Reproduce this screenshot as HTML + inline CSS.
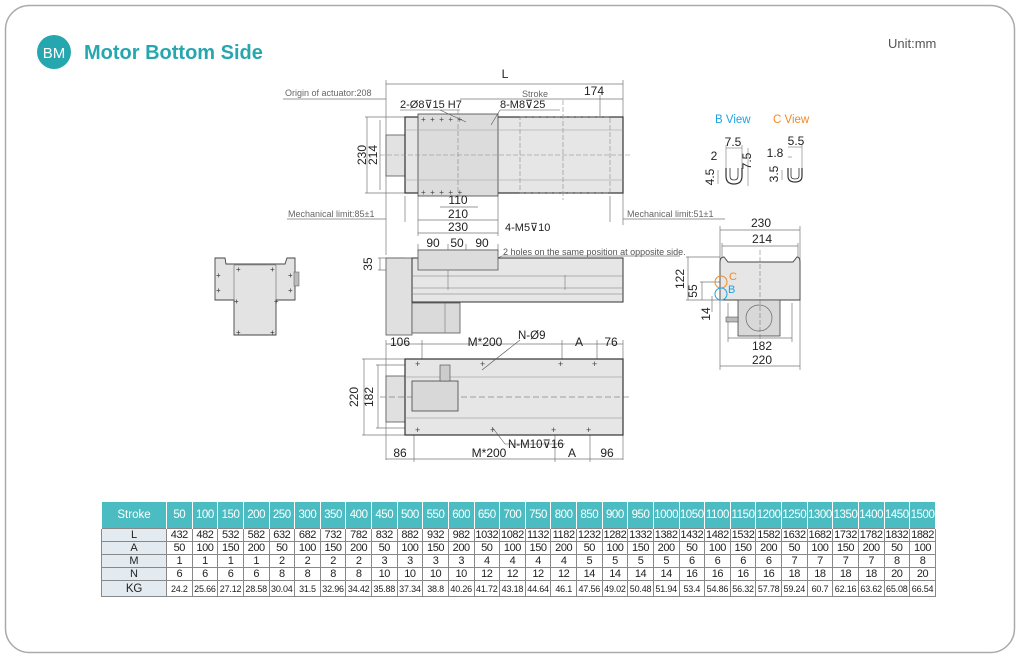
<!DOCTYPE html>
<html><head><meta charset="utf-8"><style>
body{margin:0;width:1020px;height:659px;background:#fff;position:relative;overflow:hidden;font-family:"Liberation Sans",sans-serif}
svg{position:absolute;left:0;top:0}
table{position:absolute;left:101px;top:502px;border-collapse:collapse;table-layout:fixed;width:835px;font-size:11px;letter-spacing:-0.4px;color:#222}
td{border:1px solid #888;text-align:center;padding:0;height:12px;line-height:12px;overflow:hidden;white-space:nowrap}
tr.h td{background:#4bbdc2;color:#fff;height:26px;border-color:#fff;border-width:0 1px;font-size:11.5px}
td.l{background:#e4ebf0;width:64px;letter-spacing:0}
tr.kg td{font-size:9px;height:15px;letter-spacing:-0.2px}
</style></head><body>
<svg width="1020" height="659" font-family="Liberation Sans, sans-serif">
<rect x="5.5" y="5.5" width="1009" height="647" rx="24" fill="none" stroke="#aaa" stroke-width="1.5"/>
<circle cx="54" cy="52" r="17" fill="#26a7b0"/>
<text x="54" y="58" fill="#fff" font-size="15" text-anchor="middle">BM</text>
<text x="84" y="59" fill="#26a7b0" font-size="20" font-weight="bold">Motor Bottom Side</text>
<text x="888" y="48" fill="#555" font-size="13">Unit:mm</text>

<g stroke="#777" stroke-width="0.7" fill="none">
<line x1="386" y1="84" x2="623" y2="84"/><line x1="386" y1="80" x2="386" y2="255"/><line x1="623" y1="80" x2="623" y2="225"/>
<line x1="460" y1="99" x2="623" y2="99"/><line x1="600" y1="95" x2="600" y2="117"/>
<line x1="283" y1="99" x2="386" y2="99"/>
<line x1="365" y1="117" x2="405" y2="117"/><line x1="365" y1="193" x2="405" y2="193"/><line x1="367" y1="117" x2="367" y2="193"/>
<line x1="380" y1="120" x2="380" y2="190"/>
<line x1="440" y1="207" x2="478" y2="207"/><line x1="418" y1="220" x2="498" y2="220"/><line x1="418" y1="233" x2="498" y2="233"/>
<line x1="418" y1="196" x2="418" y2="236"/><line x1="498" y1="196" x2="498" y2="236"/>
<line x1="287" y1="219" x2="386" y2="219"/><line x1="623" y1="219" x2="725" y2="219"/>
<line x1="405" y1="196" x2="405" y2="222"/><line x1="610" y1="196" x2="610" y2="222"/>
</g>
<rect x="386" y="135" width="19" height="41" fill="#e2e2e2" stroke="#555" stroke-width="0.8"/>
<rect x="405" y="117" width="218" height="76" fill="#e6e6e6" stroke="#333" stroke-width="1.2"/>
<rect x="418" y="114" width="80" height="82" fill="#dcdcdc" stroke="#444" stroke-width="0.8"/>
<g stroke="#888" stroke-width="0.6" fill="none" stroke-dasharray="5,2">
<rect x="520" y="117" width="90" height="76"/>
<line x1="380" y1="155" x2="630" y2="155"/><line x1="458" y1="110" x2="458" y2="200"/><line x1="563" y1="100" x2="563" y2="200"/>
</g>
<g stroke="#999" stroke-width="0.6"><line x1="405" y1="130" x2="623" y2="130"/><line x1="405" y1="180" x2="623" y2="180"/></g>
<g fill="#444" font-size="8"><text x="421" y="122">+ &#160;+ &#160;+ &#160;+ &#160;+</text><text x="421" y="195">+ &#160;+ &#160;+ &#160;+ &#160;+</text></g>
<g font-size="12" fill="#222" text-anchor="middle">
<text x="505" y="78">L</text><text x="594" y="95">174</text>
<text x="458" y="204">110</text><text x="458" y="218">210</text><text x="458" y="231">230</text>
<text x="366" y="155" transform="rotate(-90 366 155)">230</text><text x="377" y="155" transform="rotate(-90 377 155)">214</text>
</g>
<g font-size="9" fill="#666"><text x="285" y="96">Origin of actuator:208</text><text x="522" y="97">Stroke</text>
<text x="288" y="217">Mechanical limit:85±1</text><text x="627" y="217">Mechanical limit:51±1</text></g>
<g font-size="11" fill="#222"><text x="400" y="108">2-Ø8⊽15 H7</text><text x="500" y="108">8-M8⊽25</text><text x="505" y="231">4-M5⊽10</text></g>
<g stroke="#555" stroke-width="0.6"><line x1="400" y1="110" x2="460" y2="110"/><line x1="440" y1="110" x2="466" y2="122"/><line x1="500" y1="110" x2="560" y2="110"/><line x1="500" y1="110" x2="491" y2="125"/></g>

<g stroke="#777" stroke-width="0.7" fill="none">
<line x1="418" y1="250" x2="498" y2="250"/><line x1="418" y1="244" x2="418" y2="252"/><line x1="448" y1="244" x2="448" y2="270"/><line x1="466" y1="244" x2="466" y2="270"/><line x1="498" y1="244" x2="498" y2="252"/>
<line x1="378" y1="258" x2="405" y2="258"/><line x1="378" y1="270" x2="418" y2="270"/><line x1="380" y1="258" x2="380" y2="270"/>
<line x1="470" y1="271" x2="502" y2="256"/><line x1="502" y1="256" x2="680" y2="256"/>
</g>
<rect x="386" y="258" width="26" height="77" fill="#e0e0e0" stroke="#555" stroke-width="0.8"/>
<rect x="412" y="258" width="211" height="44" fill="#e6e6e6" stroke="#333" stroke-width="1"/>
<rect x="418" y="250" width="80" height="20" fill="#dcdcdc" stroke="#555" stroke-width="0.8"/>
<rect x="412" y="303" width="48" height="30" fill="#dadada" stroke="#555" stroke-width="0.8"/>
<g stroke="#777" stroke-width="0.6"><line x1="412" y1="276" x2="623" y2="276"/><line x1="412" y1="288" x2="623" y2="288"/><line x1="412" y1="294" x2="623" y2="294"/><line x1="445" y1="303" x2="445" y2="333"/><line x1="448" y1="270" x2="448" y2="290"/><line x1="565" y1="275" x2="565" y2="290"/></g>
<g font-size="12" fill="#222" text-anchor="middle"><text x="433" y="247">90</text><text x="457" y="247">50</text><text x="482" y="247">90</text>
<text x="372" y="264" transform="rotate(-90 372 264)">35</text></g>
<text x="503" y="255" font-size="9" fill="#555">2 holes on the same position at opposite side.</text>

<g stroke="#777" stroke-width="0.7" fill="none">
<line x1="386" y1="344" x2="623" y2="344"/><line x1="386" y1="340" x2="386" y2="460"/><line x1="623" y1="340" x2="623" y2="460"/>
<line x1="422" y1="340" x2="422" y2="360"/><line x1="562" y1="340" x2="562" y2="360"/><line x1="597" y1="340" x2="597" y2="360"/>
<line x1="386" y1="459" x2="623" y2="459"/><line x1="414" y1="435" x2="414" y2="462"/><line x1="555" y1="435" x2="555" y2="462"/><line x1="590" y1="435" x2="590" y2="462"/>
<line x1="362" y1="359" x2="405" y2="359"/><line x1="362" y1="435" x2="405" y2="435"/><line x1="364" y1="359" x2="364" y2="435"/>
<line x1="376" y1="365" x2="405" y2="365"/><line x1="376" y1="428" x2="405" y2="428"/><line x1="378" y1="365" x2="378" y2="428"/>
</g>
<rect x="386" y="376" width="19" height="46" fill="#e0e0e0" stroke="#555" stroke-width="0.8"/>
<rect x="405" y="359" width="218" height="76" fill="#e6e6e6" stroke="#333" stroke-width="1.2"/>
<g stroke="#888" stroke-width="0.6"><line x1="405" y1="377" x2="623" y2="377"/><line x1="405" y1="418" x2="623" y2="418"/></g>
<line x1="380" y1="397" x2="630" y2="397" stroke="#555" stroke-width="0.6" stroke-dasharray="6,3"/>
<rect x="412" y="381" width="46" height="30" fill="#d8d8d8" stroke="#444" stroke-width="0.8"/>
<rect x="440" y="365" width="10" height="16" fill="#ccc" stroke="#444" stroke-width="0.6"/>
<g fill="#444" font-size="9"><text x="415" y="367">+</text><text x="480" y="367">+</text><text x="558" y="367">+</text><text x="592" y="367">+</text>
<text x="415" y="433">+</text><text x="490" y="433">+</text><text x="551" y="433">+</text><text x="586" y="433">+</text></g>
<g stroke="#555" stroke-width="0.6"><line x1="520" y1="340" x2="482" y2="370"/><line x1="492" y1="427" x2="505" y2="444"/><line x1="505" y1="444" x2="565" y2="444"/></g>
<g font-size="12" fill="#222" text-anchor="middle"><text x="400" y="346">106</text><text x="485" y="346">M*200</text><text x="579" y="346">A</text><text x="611" y="346">76</text>
<text x="400" y="457">86</text><text x="489" y="457">M*200</text><text x="572" y="457">A</text><text x="607" y="457">96</text>
<text x="358" y="397" transform="rotate(-90 358 397)">220</text><text x="373" y="397" transform="rotate(-90 373 397)">182</text></g>
<g font-size="11.5" fill="#222"><text x="518" y="339">N-Ø9</text><text x="508" y="448">N-M10⊽16</text></g>

<path d="M215 258 L225 258 L226 264 L285 264 L287 258 L295 258 L295 300 L276 300 L276 335 L234 335 L234 300 L215 300 Z" fill="#e3e3e3" stroke="#444" stroke-width="0.9"/>
<line x1="234" y1="265" x2="276" y2="265" stroke="#666" stroke-width="0.6"/><line x1="234" y1="265" x2="234" y2="300" stroke="#666" stroke-width="0.6"/><line x1="276" y1="265" x2="276" y2="300" stroke="#666" stroke-width="0.6"/>
<rect x="294" y="272" width="5" height="14" fill="#bbb" stroke="#555" stroke-width="0.5"/>
<g fill="#333" font-size="8"><text x="236" y="272">+</text><text x="270" y="272">+</text><text x="216" y="278">+</text><text x="288" y="278">+</text><text x="216" y="293">+</text><text x="288" y="293">+</text><text x="234" y="304">+</text><text x="274" y="304">+</text><text x="236" y="335">+</text><text x="270" y="335">+</text></g>

<g stroke="#777" stroke-width="0.7" fill="none">
<line x1="720" y1="230" x2="800" y2="230"/><line x1="722" y1="246" x2="798" y2="246"/>
<line x1="720" y1="226" x2="720" y2="370"/><line x1="800" y1="226" x2="800" y2="370"/>
<line x1="722" y1="243" x2="722" y2="257"/><line x1="798" y1="243" x2="798" y2="257"/>
<line x1="728" y1="338" x2="792" y2="338"/><line x1="720" y1="366" x2="800" y2="366"/>
<line x1="728" y1="303" x2="728" y2="342"/><line x1="792" y1="303" x2="792" y2="342"/>
<line x1="686" y1="257" x2="720" y2="257"/><line x1="688" y1="257" x2="688" y2="300"/><line x1="686" y1="300" x2="720" y2="300"/>
<line x1="700" y1="282" x2="720" y2="282"/><line x1="702" y1="282" x2="702" y2="300"/>
<line x1="712" y1="296" x2="712" y2="312"/>
</g>
<path d="M720 300 L720 262 Q720 257 724 257 L728 262 L793 262 L797 257 Q800 257 800 262 L800 300 Z" fill="#e6e6e6" stroke="#444" stroke-width="0.9"/>
<rect x="738" y="300" width="42" height="36" fill="#d8d8d8" stroke="#444" stroke-width="0.8"/>
<circle cx="759" cy="318" r="13" fill="none" stroke="#666" stroke-width="0.7"/>
<line x1="760" y1="250" x2="760" y2="340" stroke="#666" stroke-width="0.5" stroke-dasharray="5,2"/>
<rect x="726" y="317" width="12" height="5" fill="#bbb" stroke="#444" stroke-width="0.5"/>
<circle cx="721" cy="282" r="6" fill="none" stroke="#f08a24" stroke-width="1"/>
<circle cx="721" cy="294" r="6" fill="none" stroke="#1ea2e0" stroke-width="1"/>
<text x="729" y="280" font-size="11" fill="#f08a24">C</text><text x="728" y="293" font-size="11" fill="#1ea2e0">B</text>
<g font-size="12" fill="#222" text-anchor="middle"><text x="761" y="227">230</text><text x="762" y="243">214</text><text x="762" y="350">182</text><text x="762" y="364">220</text>
<text x="684" y="279" transform="rotate(-90 684 279)">122</text><text x="697" y="291" transform="rotate(-90 697 291)">55</text><text x="710" y="314" transform="rotate(-90 710 314)">14</text></g>

<text x="715" y="123" font-size="11.5" fill="#1ea2e0">B View</text><text x="773" y="123" font-size="11.5" fill="#f08a24">C View</text>
<path d="M726 168 L726 176 Q726 184 734 184 Q742 184 742 176 L742 168" fill="none" stroke="#333" stroke-width="1.2"/>
<path d="M730 168 L730 176 Q730 180 734 180 Q738 180 738 176 L738 168" fill="none" stroke="#333" stroke-width="0.8"/>
<path d="M788 168 L788 176 Q788 182 795 182 Q802 182 802 176 L802 168" fill="none" stroke="#333" stroke-width="1.2"/>
<path d="M791 168 L791 176 Q791 179 795 179 Q799 179 799 176 L799 168" fill="none" stroke="#333" stroke-width="0.8"/>
<g stroke="#777" stroke-width="0.6"><line x1="726" y1="148" x2="742" y2="148"/><line x1="742" y1="145" x2="742" y2="168"/><line x1="726" y1="145" x2="726" y2="168"/><line x1="748" y1="148" x2="748" y2="186"/><line x1="718" y1="170" x2="718" y2="184"/>
<line x1="788" y1="147" x2="802" y2="147"/><line x1="802" y1="144" x2="802" y2="168"/><line x1="788" y1="157" x2="792" y2="157"/><line x1="782" y1="170" x2="782" y2="180"/></g>
<g font-size="12" fill="#222" text-anchor="middle"><text x="733" y="146">7.5</text><text x="714" y="160">2</text>
<text x="751" y="161" transform="rotate(-90 751 161)">7.5</text><text x="714" y="177" transform="rotate(-90 714 177)">4.5</text>
<text x="796" y="145">5.5</text><text x="775" y="157">1.8</text><text x="778" y="174" transform="rotate(-90 778 174)">3.5</text></g>
</svg>

<table>
<tr class="h"><td class="l" style="background:#4bbdc2">Stroke</td><td>50</td><td>100</td><td>150</td><td>200</td><td>250</td><td>300</td><td>350</td><td>400</td><td>450</td><td>500</td><td>550</td><td>600</td><td>650</td><td>700</td><td>750</td><td>800</td><td>850</td><td>900</td><td>950</td><td>1000</td><td>1050</td><td>1100</td><td>1150</td><td>1200</td><td>1250</td><td>1300</td><td>1350</td><td>1400</td><td>1450</td><td>1500</td></tr>
<tr><td class="l">L</td><td>432</td><td>482</td><td>532</td><td>582</td><td>632</td><td>682</td><td>732</td><td>782</td><td>832</td><td>882</td><td>932</td><td>982</td><td>1032</td><td>1082</td><td>1132</td><td>1182</td><td>1232</td><td>1282</td><td>1332</td><td>1382</td><td>1432</td><td>1482</td><td>1532</td><td>1582</td><td>1632</td><td>1682</td><td>1732</td><td>1782</td><td>1832</td><td>1882</td></tr>
<tr><td class="l">A</td><td>50</td><td>100</td><td>150</td><td>200</td><td>50</td><td>100</td><td>150</td><td>200</td><td>50</td><td>100</td><td>150</td><td>200</td><td>50</td><td>100</td><td>150</td><td>200</td><td>50</td><td>100</td><td>150</td><td>200</td><td>50</td><td>100</td><td>150</td><td>200</td><td>50</td><td>100</td><td>150</td><td>200</td><td>50</td><td>100</td></tr>
<tr><td class="l">M</td><td>1</td><td>1</td><td>1</td><td>1</td><td>2</td><td>2</td><td>2</td><td>2</td><td>3</td><td>3</td><td>3</td><td>3</td><td>4</td><td>4</td><td>4</td><td>4</td><td>5</td><td>5</td><td>5</td><td>5</td><td>6</td><td>6</td><td>6</td><td>6</td><td>7</td><td>7</td><td>7</td><td>7</td><td>8</td><td>8</td></tr>
<tr><td class="l">N</td><td>6</td><td>6</td><td>6</td><td>6</td><td>8</td><td>8</td><td>8</td><td>8</td><td>10</td><td>10</td><td>10</td><td>10</td><td>12</td><td>12</td><td>12</td><td>12</td><td>14</td><td>14</td><td>14</td><td>14</td><td>16</td><td>16</td><td>16</td><td>16</td><td>18</td><td>18</td><td>18</td><td>18</td><td>20</td><td>20</td></tr>
<tr class="kg"><td class="l" style="font-size:11.5px">KG</td><td>24.2</td><td>25.66</td><td>27.12</td><td>28.58</td><td>30.04</td><td>31.5</td><td>32.96</td><td>34.42</td><td>35.88</td><td>37.34</td><td>38.8</td><td>40.26</td><td>41.72</td><td>43.18</td><td>44.64</td><td>46.1</td><td>47.56</td><td>49.02</td><td>50.48</td><td>51.94</td><td>53.4</td><td>54.86</td><td>56.32</td><td>57.78</td><td>59.24</td><td>60.7</td><td>62.16</td><td>63.62</td><td>65.08</td><td>66.54</td></tr>
</table>
</body></html>
